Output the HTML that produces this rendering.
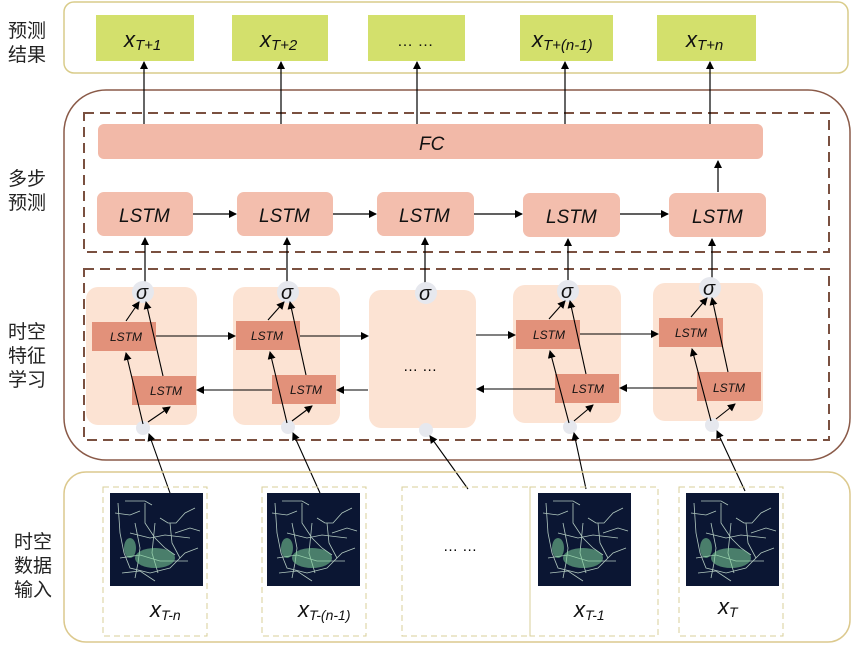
<!DOCTYPE html>
<html><head><meta charset="utf-8"><style>
body{margin:0;background:#fff}
svg{display:block}
.cn{font-family:"Liberation Sans","Noto Sans CJK SC",sans-serif;font-size:19px;fill:#222}
.it{font-family:"Liberation Sans","Noto Sans CJK SC",sans-serif;font-style:italic;fill:#111}
</style></head><body>
<svg width="863" height="648" viewBox="0 0 863 648" xmlns="http://www.w3.org/2000/svg">
<defs>
<marker id="a" markerWidth="8" markerHeight="8" refX="7" refY="4" orient="auto" markerUnits="userSpaceOnUse"><path d="M0,0 L8,4 L0,8 z" fill="#000"/></marker>
<g id="map">
<rect width="93" height="93" fill="#0b1633"/>
<g stroke="#cfe8d8" stroke-width="0.8" fill="none" opacity="0.85">
<path d="M8,10 L10,40 L14,60 L20,75 L40,80 L60,75 L75,60 L88,55"/>
<path d="M15,8 L35,8 L42,12"/><path d="M35,10 L35,30 L45,45 L55,55 L65,62"/>
<path d="M50,25 L58,30 L66,30 L75,20 L85,15"/><path d="M60,30 L62,50 L70,65"/>
<path d="M20,40 L40,45 L55,42 L80,45"/><path d="M25,30 L30,55 L28,70 L25,85"/>
<path d="M10,65 L30,62 L50,68 L78,68"/><path d="M45,30 L42,60 L48,80"/>
<path d="M5,20 L20,22 L30,18"/><path d="M65,40 L80,35 L90,38"/><path d="M12,80 L30,78 L45,88"/>
</g>
<g fill="#7fd49a" opacity="0.55"><ellipse cx="45" cy="65" rx="20" ry="10"/><ellipse cx="20" cy="55" rx="6" ry="10"/></g>
</g>
</defs>

<text class="cn" x="8" y="37">预测</text><text class="cn" x="8" y="61">结果</text>
<text class="cn" x="8" y="185">多步</text><text class="cn" x="8" y="209">预测</text>
<text class="cn" x="8" y="338">时空</text><text class="cn" x="8" y="362">特征</text><text class="cn" x="8" y="386">学习</text>
<text class="cn" x="14" y="548">时空</text><text class="cn" x="14" y="572">数据</text><text class="cn" x="14" y="596">输入</text>

<rect x="64" y="2" width="784" height="71" rx="10" fill="#fff" stroke="#d9cc8a" stroke-width="1.5"/>
<g fill="#d3e06c">
<rect x="96" y="15" width="98" height="46"/><rect x="232" y="15" width="96" height="46"/>
<rect x="368" y="15" width="97" height="46"/><rect x="520" y="15" width="93" height="46"/>
<rect x="657" y="15" width="99" height="46"/></g>
<g class="it" font-size="22">
<text x="124" y="47">x<tspan font-size="15" dy="3">T+1</tspan></text>
<text x="260" y="47">x<tspan font-size="15" dy="3">T+2</tspan></text>
<text x="397" y="46" font-style="normal" font-size="16">… …</text>
<text x="532" y="47">x<tspan font-size="15" dy="3">T+(n-1)</tspan></text>
<text x="686" y="47">x<tspan font-size="15" dy="3">T+n</tspan></text>
</g>

<rect x="64" y="90" width="786" height="370" rx="42" fill="#fff" stroke="#8a5a48" stroke-width="1.5"/>
<rect x="84" y="113" width="745" height="139" fill="none" stroke="#7a5040" stroke-width="2" stroke-dasharray="10,6"/>
<rect x="84" y="269" width="745" height="171" fill="none" stroke="#7a5040" stroke-width="2" stroke-dasharray="10,6"/>

<rect x="98" y="124" width="665" height="35" rx="6" fill="#f2b9a8"/>
<text class="it" x="419" y="150" font-size="19">FC</text>
<g fill="#f3bead">
<rect x="97" y="192" width="96" height="44" rx="7"/><rect x="237" y="192" width="96" height="44" rx="7"/>
<rect x="377" y="192" width="97" height="44" rx="7"/><rect x="523" y="193" width="97" height="44" rx="7"/>
<rect x="669" y="193" width="97" height="44" rx="7"/></g>
<g class="it" font-size="19">
<text x="119" y="222">LSTM</text><text x="259" y="222">LSTM</text><text x="399" y="222">LSTM</text>
<text x="546" y="223">LSTM</text><text x="692" y="223">LSTM</text></g>

<g stroke="#000" stroke-width="1.2" marker-end="url(#a)">
<line x1="144" y1="124" x2="144" y2="62"/><line x1="281" y1="124" x2="281" y2="62"/>
<line x1="417" y1="124" x2="417" y2="62"/><line x1="565" y1="124" x2="565" y2="62"/>
<line x1="710" y1="124" x2="710" y2="62"/>
<line x1="718" y1="192" x2="718" y2="161"/>
<line x1="193" y1="214" x2="236" y2="214"/><line x1="333" y1="214" x2="376" y2="214"/>
<line x1="474" y1="214" x2="522" y2="214"/><line x1="620" y1="214" x2="668" y2="214"/>
<line x1="145" y1="282" x2="145" y2="238"/><line x1="287" y1="282" x2="287" y2="238"/>
<line x1="425" y1="283" x2="425" y2="238"/><line x1="568" y1="281" x2="568" y2="239"/>
<line x1="712" y1="278" x2="712" y2="239"/>
</g>

<g fill="#fce3d3">
<rect x="86" y="287" width="111" height="138" rx="12"/><rect x="233" y="287" width="107" height="138" rx="12"/>
<rect x="369" y="290" width="107" height="138" rx="12"/><rect x="513" y="285" width="108" height="138" rx="12"/>
<rect x="653" y="283" width="110" height="138" rx="12"/></g>
<g fill="#e6e8ee">
<circle cx="143" cy="292" r="11"/><circle cx="288" cy="292" r="11"/><circle cx="426" cy="293" r="11"/>
<circle cx="568" cy="291" r="11"/><circle cx="710" cy="288" r="11"/>
<circle cx="143" cy="428" r="7"/><circle cx="288" cy="427" r="7"/><circle cx="426" cy="430" r="7"/>
<circle cx="570" cy="427" r="7"/><circle cx="712" cy="425" r="7"/></g>
<g class="it" font-size="20">
<text x="136" y="299">σ</text><text x="281" y="299">σ</text><text x="419" y="300">σ</text>
<text x="561" y="298">σ</text><text x="703" y="295">σ</text></g>
<text x="403" y="371" font-family="Liberation Sans" font-size="15">… …</text>
<text x="443" y="551" font-family="Liberation Sans" font-size="15">… …</text>

<g fill="#e2917a">
<rect x="92" y="322" width="64" height="29"/><rect x="132" y="376" width="64" height="29"/>
<rect x="236" y="321" width="64" height="29"/><rect x="272" y="375" width="64" height="29"/>
<rect x="516" y="320" width="64" height="29"/><rect x="555" y="374" width="64" height="29"/>
<rect x="659" y="318" width="64" height="29"/><rect x="697" y="372" width="64" height="29"/></g>
<g class="it" font-size="12">
<text x="110" y="341">LSTM</text><text x="150" y="395">LSTM</text>
<text x="251" y="340">LSTM</text><text x="290" y="394">LSTM</text>
<text x="533" y="339">LSTM</text><text x="572" y="393">LSTM</text>
<text x="675" y="337">LSTM</text><text x="713" y="392">LSTM</text></g>

<g stroke="#000" stroke-width="1.1" marker-end="url(#a)">
<line x1="143" y1="424" x2="126" y2="353"/><line x1="148" y1="422" x2="170" y2="407"/>
<line x1="163" y1="376" x2="146" y2="302"/><line x1="126" y1="321" x2="139" y2="302"/>
<line x1="287" y1="423" x2="270" y2="352"/><line x1="292" y1="421" x2="312" y2="406"/>
<line x1="306" y1="375" x2="290" y2="302"/><line x1="268" y1="320" x2="284" y2="302"/>
<line x1="569" y1="423" x2="550" y2="351"/><line x1="574" y1="421" x2="593" y2="405"/>
<line x1="586" y1="374" x2="570" y2="301"/><line x1="549" y1="319" x2="565" y2="301"/>
<line x1="711" y1="421" x2="692" y2="349"/><line x1="716" y1="419" x2="735" y2="404"/>
<line x1="728" y1="372" x2="712" y2="298"/><line x1="691" y1="317" x2="707" y2="298"/>
<line x1="156" y1="336" x2="235" y2="336"/><line x1="300" y1="336" x2="368" y2="336"/>
<line x1="476" y1="335" x2="515" y2="335"/><line x1="580" y1="334" x2="658" y2="334"/>
<line x1="697" y1="388" x2="620" y2="388"/><line x1="555" y1="389" x2="477" y2="389"/>
<line x1="368" y1="390" x2="337" y2="390"/><line x1="272" y1="390" x2="197" y2="390"/>
<line x1="170" y1="493" x2="149" y2="434"/><line x1="320" y1="493" x2="293" y2="433"/>
<line x1="468" y1="489" x2="430" y2="436"/><line x1="586" y1="489" x2="574" y2="433"/>
<line x1="745" y1="491" x2="717" y2="431"/>
</g>

<rect x="64" y="472" width="786" height="170" rx="22" fill="none" stroke="#dcc98e" stroke-width="1.5"/>
<g fill="none" stroke="#d8cf9a" stroke-dasharray="6,4">
<rect x="103" y="487" width="104" height="149"/><rect x="262" y="487" width="104" height="149"/>
<rect x="402" y="487" width="128" height="149"/><rect x="530" y="487" width="128" height="149"/>
<rect x="679" y="487" width="104" height="149"/></g>
<use href="#map" x="110" y="493"/><use href="#map" x="267" y="493"/>
<use href="#map" x="538" y="493"/><use href="#map" x="686" y="493"/>
<g class="it" font-size="22">
<text x="150" y="617">x<tspan font-size="14" dy="3">T-n</tspan></text>
<text x="298" y="617">x<tspan font-size="14" dy="3">T-(n-1)</tspan></text>
<text x="574" y="617">x<tspan font-size="14" dy="3">T-1</tspan></text>
<text x="718" y="614">x<tspan font-size="14" dy="3">T</tspan></text>
</g>
</svg>
</body></html>
